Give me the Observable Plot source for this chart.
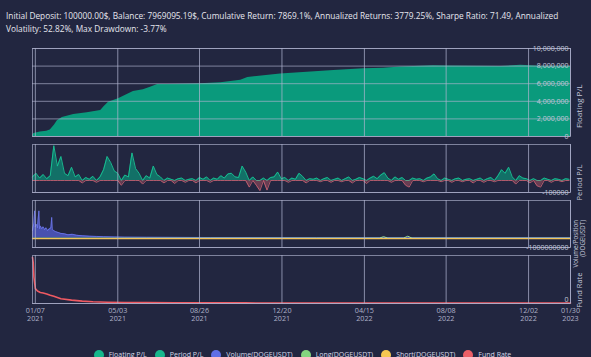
<!DOCTYPE html>
<html>
<head>
<meta charset="utf-8">
<script src="https://cdn.jsdelivr.net/npm/d3@7"></script>
<script src="https://cdn.jsdelivr.net/npm/@observablehq/plot@0.6"></script>
<style>
html,body{margin:0;padding:0;background:#222640;}
#wrap{position:relative;width:591px;height:357px;overflow:hidden;background:#222640;font-family:"Open Sans","Noto Sans",sans-serif;}
#title{position:absolute;left:6px;top:10px;color:#e6e7ef;font-size:8.3px;line-height:12.5px;white-space:nowrap;}
.panel{position:absolute;left:0;}
#legend{position:absolute;left:0;top:349px;width:591px;display:flex;justify-content:center;gap:8px;color:#d5d7e6;font-size:7px;line-height:12px;white-space:nowrap;padding-left:14px;box-sizing:border-box;}
.item{display:flex;align-items:center;gap:5px;}
.dot{width:10px;height:10px;border-radius:50%;}
</style>
</head>
<body>
<div id="wrap">
  <div id="title"></div>
  <div id="legend"></div>
</div>
<script>
// ---------- data ----------
const titleLines = [
  "Initial Deposit: 100000.00$, Balance: 7969095.19$, Cumulative Return: 7869.1%, Annualized Returns: 3779.25%, Sharpe Ratio: 71.49, Annualized",
  "Volatility: 52.82%, Max Drawdown: -3.77%"
];
const startDate = "2021-01-03";
const endDate = "2023-01-30";
const xTickDates = ["2021-01-07","2021-05-03","2021-08-26","2021-12-20","2022-04-15","2022-08-08","2022-12-02","2023-01-30"];

// Floating P/L (millions $)
const floatDates = ["2021-01-03","2021-01-05","2021-01-14","2021-01-23","2021-01-28","2021-02-03","2021-02-07","2021-02-14","2021-03-02","2021-03-21","2021-04-09","2021-04-14","2021-04-20","2021-05-04","2021-05-17","2021-05-25","2021-06-08","2021-06-18","2021-06-28","2021-07-12","2021-08-27","2021-09-25","2021-10-23","2021-11-02","2021-12-18","2022-03-03","2022-04-14","2022-05-12","2022-06-05","2022-07-21","2022-08-10","2022-10-24","2022-11-21","2022-12-19","2023-01-30"];
const floatValues = [0.10,0.35,0.50,0.60,0.75,1.30,1.80,2.15,2.50,2.70,2.95,3.40,3.90,4.30,4.80,5.10,5.30,5.60,5.90,5.90,6.00,6.10,6.40,6.70,7.10,7.50,7.70,7.75,7.90,8.05,8.00,7.95,8.10,7.98,7.97];

// Period P/L (thousands $), one value every 5 days from startDate
const periodStepDays = 5;
const periodValues = [30,60,20,50,15,40,290,120,200,60, 40,110,30,50,-20,25,10,35,-15,30,
  90,200,150,80,60,-40,45,30,230,100, 60,-30,40,20,120,50,30,-20,20,10,
  -25,15,20,-15,10,15,-20,25,10,30, -15,20,10,40,20,55,60,30,25,120,
  70,-55,30,-40,-85,20,-80,25,30,70, 15,25,-15,20,10,60,35,-20,15,10,
  20,-10,15,25,-15,10,20,-10,15,30, -20,10,25,15,-25,20,35,15,45,65,
  20,-15,30,10,25,-40,-55,20,10,15, -10,20,30,55,15,-10,20,10,-15,15,
  20,-10,10,15,-20,10,20,-15,15,25, -10,40,90,60,110,30,-30,40,20,15,
  -20,15,-45,-55,20,10,-15,15,10,-10, 15,10];

// Volume / Position (billions), day offsets from startDate
const volDays = [0,2,3,4,5,7,9,10,11,13,15,17,19,21,24,26,27,28,30,32,36,40,45,50,56,62,70,80,90,100,115,130,160,250,400,600,757];
const volValues = [0.8,1.6,2.9,1.2,1.5,1.1,2.9,1.0,1.3,1.0,1.2,0.9,1.1,0.8,1.0,1.1,2.2,0.9,0.8,0.7,0.6,0.5,0.45,0.35,0.4,0.3,0.25,0.2,0.18,0.15,0.12,0.1,0.08,0.06,0.05,0.05,0.05];
const longDays = [0,488,494,500,522,528,534,757];
const longValues = [0,0,0.15,0,0,0.2,0,0];
const shortDays = [0,757];
const shortValues = [-0.05,-0.05];

// Fund rate
const fundDays = [0,1,2,4,7,11,15,20,25,30,40,55,70,85,105,130,160,200,300,400,500,600,757];
const fundValues = [0.96,0.85,0.55,0.31,0.26,0.23,0.22,0.2,0.17,0.15,0.1,0.07,0.05,0.035,0.025,0.02,0.018,0.015,0.012,0.01,0.01,0.01,0.01];

const legendLabels = ["Floating P/L","Period P/L","Volume(DOGEUSDT)","Long(DOGEUSDT)","Short(DOGEUSDT)","Fund Rate"];
const legendColors = ["#16b88c","#16b88c","#5f6fe6","#84d67f","#f7c752","#ec5f67"];

// ---------- build ----------
const parse = d3.utcParse("%Y-%m-%d");
const x0 = parse(startDate), x1 = parse(endDate);
const dayOf = d => d3.utcDay.offset(x0, d);
const xTicks = xTickDates.map(parse);

const floatData = floatDates.map((d,i) => ({date: parse(d), v: floatValues[i]*1e6}));
const periodData = periodValues.map((v,i) => ({date: dayOf(i*periodStepDays), v: v*1000}));
const volData = volDays.map((d,i) => ({date: dayOf(d), v: volValues[i]*1e9}));
const longData = longDays.map((d,i) => ({date: dayOf(d), v: longValues[i]*1e9}));
const shortData = shortDays.map((d,i) => ({date: dayOf(d), v: shortValues[i]*1e9}));
const fundData = fundDays.map((d,i) => ({date: dayOf(d), v: fundValues[i]}));

const wrap = document.getElementById("wrap");
document.getElementById("title").innerHTML = titleLines.join("<br>");

const gridColor = "#b0b4d0";
const tickColor = "#c3c6da";
const fontFamily = '"Open Sans","Noto Sans",sans-serif';

function makePanel({top, h, mb = 4, yDomain, yTicks, yFormat, title, titleSize = 7.5, titleDy = -4, tickDy = 0, marks, xAxis = false}) {
  const mt = 6;
  const p = Plot.plot({
    width: 591, height: h + mt + mb,
    marginTop: mt, marginBottom: mb, marginLeft: 32, marginRight: 21,
    style: {background: "transparent", color: tickColor, fontFamily, overflow: "visible"},
    x: {type: "utc", domain: [x0, x1], axis: null},
    y: {domain: yDomain, axis: null},
    marks: [
      ...marks,
      Plot.gridX(xTicks, {stroke: gridColor, strokeOpacity: 0.72}),
      Plot.gridY(yTicks, {stroke: gridColor, strokeOpacity: 0.65}),
      Plot.frame({stroke: gridColor, strokeOpacity: 0.65}),
      Plot.axisY(yTicks, {anchor: "right", tickSize: 0, tickPadding: 0, textAnchor: "end", dx: -2, dy: tickDy,
        tickFormat: yFormat, fontSize: 7, fill: tickColor, label: null}),
      Plot.text([title], {text: d => d, frameAnchor: "right", rotate: -90, dx: 9, dy: titleDy, fontSize: titleSize,
        fill: tickColor, lineHeight: 1.15}),
      ...(xAxis ? [Plot.axisX(xTicks, {tickSize: 0, tickPadding: 3, fontSize: 7.2, fill: "#aeb1c8",
        tickFormat: d3.utcFormat("%m/%d\n%Y"), lineHeight: 1.18, label: null})] : [])
    ]
  });
  p.classList.add("panel");
  p.style.top = (top - mt) + "px";
  wrap.appendChild(p);
}

// Panel 1: Floating P/L
makePanel({
  top: 48, h: 88, yDomain: [0, 10e6], yTicks: [0, 2e6, 4e6, 6e6, 8e6, 10e6],
  yFormat: d3.format(","), title: "Floating P/L", titleSize: 8, titleDy: -8,
  marks: [
    Plot.areaY(floatData, {x: "date", y: "v", fill: "#00cc96", fillOpacity: 0.7, curve: "linear"})
  ]
});

// Panel 2: Period P/L
makePanel({
  top: 144, h: 48, yDomain: [-100000, 300000], yTicks: [-100000],
  yFormat: d => String(d), title: "Period P/L", titleDy: -4,
  marks: [
    Plot.areaY(periodData, {x: "date", y1: 0, y2: d => Math.max(0, d.v), fill: "#00cc96", fillOpacity: 0.45}),
    Plot.lineY(periodData, {x: "date", y: d => Math.max(0, d.v), stroke: "#19c596", strokeWidth: 0.9}),
    Plot.areaY(periodData, {x: "date", y1: 0, y2: d => Math.min(0, d.v), fill: "#ef6a78", fillOpacity: 0.35}),
    Plot.lineY(periodData, {x: "date", y: d => Math.min(0, d.v), stroke: "#e8707e", strokeWidth: 0.9, strokeOpacity: 0.8})
  ]
});

// Panel 3: Volume / Position
makePanel({
  top: 200, h: 47, yDomain: [-1e9, 4e9], yTicks: [-1e9],
  yFormat: d => String(d), title: "Volume/Position\n(DOGEUSDT)", titleSize: 6.2, titleDy: -4,
  marks: [
    Plot.areaY(volData, {x: "date", y: "v", fill: "#636efa", fillOpacity: 0.6}),
    Plot.lineY(volData, {x: "date", y: "v", stroke: "#6f79f0", strokeWidth: 0.8}),
    Plot.lineY(longData, {x: "date", y: "v", stroke: "#9fdc97", strokeWidth: 1}),
    Plot.lineY(shortData, {x: "date", y: "v", stroke: "#f2c35a", strokeWidth: 1.2})
  ]
});

// Panel 4: Fund Rate
makePanel({
  top: 255, h: 48, mb: 22, yDomain: [0, 1], yTicks: [0],
  yFormat: d => String(d), title: "Fund Rate", titleDy: -7, tickDy: -4, xAxis: true,
  marks: [
    Plot.lineY(fundData, {x: "date", y: "v", stroke: "#ef5a62", strokeWidth: 1.6})
  ]
});

// Legend
const legend = document.getElementById("legend");
legendLabels.forEach((lab, i) => {
  const it = document.createElement("div"); it.className = "item";
  const dot = document.createElement("span"); dot.className = "dot"; dot.style.background = legendColors[i];
  const t = document.createElement("span"); t.textContent = lab;
  it.appendChild(dot); it.appendChild(t); legend.appendChild(it);
});
wrap.appendChild(legend);
</script>
</body>
</html>
